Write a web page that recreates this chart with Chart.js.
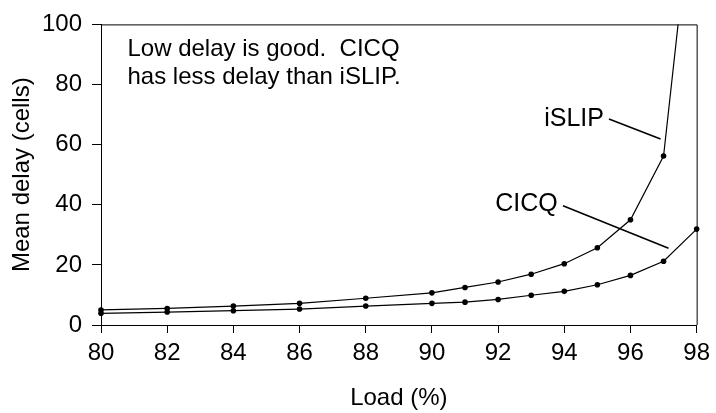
<!DOCTYPE html>
<html>
<head>
<meta charset="utf-8">
<script src="https://cdn.jsdelivr.net/npm/chart.js@4"></script>
<style>
  html, body { margin: 0; padding: 0; background: #fff; }
  #wrap { width: 716px; height: 413px; }
</style>
</head>
<body>
<div id="wrap"><canvas id="c" width="716" height="413"></canvas></div>
<script>
// ---- data ----
const loads = [80, 82, 84, 86, 88, 90, 91, 92, 93, 94, 95, 96, 97, 98];
const islipDelay = [5.0, 5.5, 6.3, 7.2, 8.9, 10.7, 12.5, 14.3, 16.9, 20.4, 25.7, 35.0, 56.2, 156];
const cicqDelay  = [3.9, 4.3, 4.75, 5.3, 6.3, 7.2, 7.6, 8.5, 9.9, 11.2, 13.4, 16.5, 21.2, 31.9];
const xTicks = [80, 82, 84, 86, 88, 90, 92, 94, 96, 98];
const yTicks = [0, 20, 40, 60, 80, 100];
const noteLines = ["Low delay is good.  CICQ", "has less delay than iSLIP."];
// annotation anchors in data units
const notePos = { x: 80.8, y1: 91.7, y2: 82.5 };
const islipLabel = { text: "iSLIP", x: 95.2, y: 68.5, lineFrom: [95.35, 68.5], lineTo: [96.91, 61.9] };
const cicqLabel  = { text: "CICQ",  x: 93.8, y: 40.2, lineFrom: [93.96, 39.7], lineTo: [97.15, 25.5] };

const FONT = "Liberation Sans, Arial, sans-serif";
const toXY = (ys) => loads.map((x, i) => ({ x, y: ys[i] }));

const annotate = {
  id: 'annotate',
  afterDatasetsDraw(chart) {
    const { ctx, chartArea: a, scales: { x, y } } = chart;
    ctx.save();
    // frame (top & right)
    ctx.strokeStyle = '#000';
    ctx.lineWidth = 1;
    ctx.beginPath();
    ctx.moveTo(a.left, a.top + 0.5);
    ctx.lineTo(a.right + 0.5, a.top + 0.5);
    ctx.lineTo(a.right + 0.5, a.bottom);
    ctx.stroke();
    // note
    ctx.fillStyle = '#000';
    ctx.font = '24px ' + FONT;
    ctx.textAlign = 'left';
    ctx.textBaseline = 'middle';
    ctx.fillText(noteLines[0], x.getPixelForValue(notePos.x), y.getPixelForValue(notePos.y1));
    ctx.fillText(noteLines[1], x.getPixelForValue(notePos.x), y.getPixelForValue(notePos.y2));
    // series labels
    ctx.font = '25px ' + FONT;
    ctx.textAlign = 'right';
    [islipLabel, cicqLabel].forEach(l => {
      ctx.fillText(l.text, x.getPixelForValue(l.x), y.getPixelForValue(l.y));
      ctx.beginPath();
      ctx.lineWidth = 1.6;
      ctx.moveTo(x.getPixelForValue(l.lineFrom[0]), y.getPixelForValue(l.lineFrom[1]));
      ctx.lineTo(x.getPixelForValue(l.lineTo[0]), y.getPixelForValue(l.lineTo[1]));
      ctx.stroke();
    });
    ctx.restore();
  }
};

new Chart(document.getElementById('c'), {
  type: 'line',
  data: {
    datasets: [
      { label: 'iSLIP', data: toXY(islipDelay), borderColor: '#000', backgroundColor: '#000',
        borderWidth: 1.2, pointRadius: 2.8, pointBorderWidth: 0, tension: 0,
        clip: { left: 6, right: 6, top: 0, bottom: 6 } },
      { label: 'CICQ', data: toXY(cicqDelay), borderColor: '#000', backgroundColor: '#000',
        borderWidth: 1.2, pointRadius: 2.8, pointBorderWidth: 0, tension: 0,
        clip: { left: 6, right: 6, top: 0, bottom: 6 } }
    ]
  },
  options: {
    responsive: false,
    animation: false,
    layout: { padding: { top: 23, right: 18, left: 0, bottom: 0 } },
    plugins: { legend: { display: false }, tooltip: { enabled: false } },
    scales: {
      x: {
        type: 'linear', min: 80, max: 98,
        afterBuildTicks: (s) => { s.ticks = xTicks.map(v => ({ value: v })); },
        afterFit: (s) => { s.height = 88; },
        ticks: { color: '#000', font: { family: FONT, size: 24 }, padding: 6, maxRotation: 0, autoSkip: false },
        grid: { drawOnChartArea: false, color: '#000', tickLength: 8, tickWidth: 1 },
        border: { color: '#000', width: 1 },
        title: { display: true, text: 'Load (%)', color: '#000', font: { family: FONT, size: 24 }, padding: { top: 1, bottom: 0 } }
      },
      y: {
        type: 'linear', min: 0, max: 100,
        afterBuildTicks: (s) => { s.ticks = yTicks.map(v => ({ value: v })); },
        afterFit: (s) => { s.width = 101; },
        ticks: { color: '#000', font: { family: FONT, size: 24 }, padding: 10 },
        grid: { drawOnChartArea: false, color: '#000', tickLength: 9, tickWidth: 1 },
        border: { color: '#000', width: 1 },
        title: { display: true, text: 'Mean delay (cells)', color: '#000', font: { family: FONT, size: 24 }, padding: { top: 8, bottom: 0 } }
      }
    }
  },
  plugins: [annotate]
});
</script>
</body>
</html>
